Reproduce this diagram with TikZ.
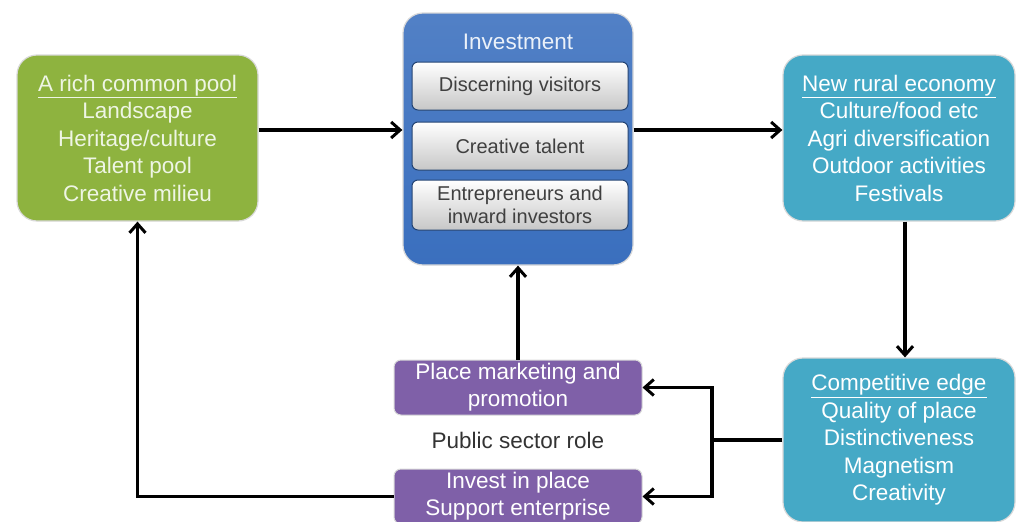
\documentclass[tikz,border=0pt]{standalone}
\usepackage{fontspec}
\setmainfont{Liberation Sans}
\usetikzlibrary{arrows.meta,calc}
\definecolor{cgreen}{HTML}{8EB33F}
\definecolor{cblue}{HTML}{3A6FBE}
\definecolor{cteal}{HTML}{45A9C6}
\definecolor{cpurple}{HTML}{7F60A8}
\definecolor{ltext}{HTML}{EEF5E4}
\begin{document}
\begin{tikzpicture}[x=1pt,y=-1pt,
  big/.style={rounded corners=20pt, draw=white!85!black, line width=1.2pt, align=center,
    text=white, font=\fontsize{22.5}{27.5}\selectfont, inner sep=0pt},
  inner/.style={rounded corners=6pt, draw=cblue!60!black, line width=1pt, top color=white,
    bottom color=black!22, align=center, text=black!75, font=\fontsize{20}{23}\selectfont,
    minimum width=216pt, inner sep=0pt},
  purp/.style={rounded corners=7pt, fill=cpurple, draw=white!85!black, line width=1pt,
    align=center, text=white, font=\fontsize{22.5}{27}\selectfont, minimum width=248pt,
    minimum height=55pt, inner sep=0pt},
  arr/.style={line width=3.2pt, -{Straight Barb[length=9pt,width=16pt,line width=3pt]}},
  ln/.style={line width=3.2pt}]
\useasboundingbox (0,0) rectangle (1018,522);
\fill[white] (0,0) rectangle (1018,522);

\node[big, fill=cgreen, text=ltext, minimum width=241pt, minimum height=166pt] (green) at (137.5,138)
  {\underline{A rich common pool}\\Landscape\\Heritage/culture\\Talent pool\\Creative milieu};

\node[big, top color=cblue!88!white, bottom color=cblue, minimum width=230pt, minimum height=252pt] (inv) at (518,139) {};
\node[text=white!90!cblue, font=\fontsize{22.5}{27}\selectfont] (invt) at (518,42) {Investment};
\node[inner, minimum height=48pt] (dv) at (520,86) {Discerning visitors};
\node[inner, minimum height=48pt] (ct) at (520,146) {Creative talent};
\node[inner, minimum height=50pt] (ei) at (520,205) {Entrepreneurs and\\inward investors};

\node[big, fill=cteal, minimum width=232pt, minimum height=166pt] (nre) at (899,138)
  {\underline{New rural economy}\\Culture/food etc\\Agri diversification\\Outdoor activities\\Festivals};

\node[big, fill=cteal, minimum width=232pt, minimum height=164pt] (ce) at (899,440)
  {\underline{Competitive edge}\\Quality of place\\Distinctiveness\\Magnetism\\Creativity};

\node[purp] (pm) at (518,387.5) {Place marketing and\\promotion};
\node[purp] (ip) at (518,496.5) {Invest in place\\Support enterprise};
\node[text=black!80, font=\fontsize{22.5}{27}\selectfont] (psr) at (518,440) {Public sector role};

\coordinate (j) at (712,440);
\draw[arr] (green.east |- 0,130) -- (inv.west |- 0,130);
\draw[arr] (inv.east |- 0,130) -- (nre.west |- 0,130);
\draw[arr] (905,0 |- nre.south) -- (905,0 |- ce.north);
\draw[ln] (ce.west) -- (j);
\draw[arr] (j) |- (pm.east);
\draw[arr] (j) |- (ip.east);
\draw[arr] (pm.north) -- (inv.south);
\draw[arr] (ip.west) -| (green.south);
\end{tikzpicture}
\end{document}
